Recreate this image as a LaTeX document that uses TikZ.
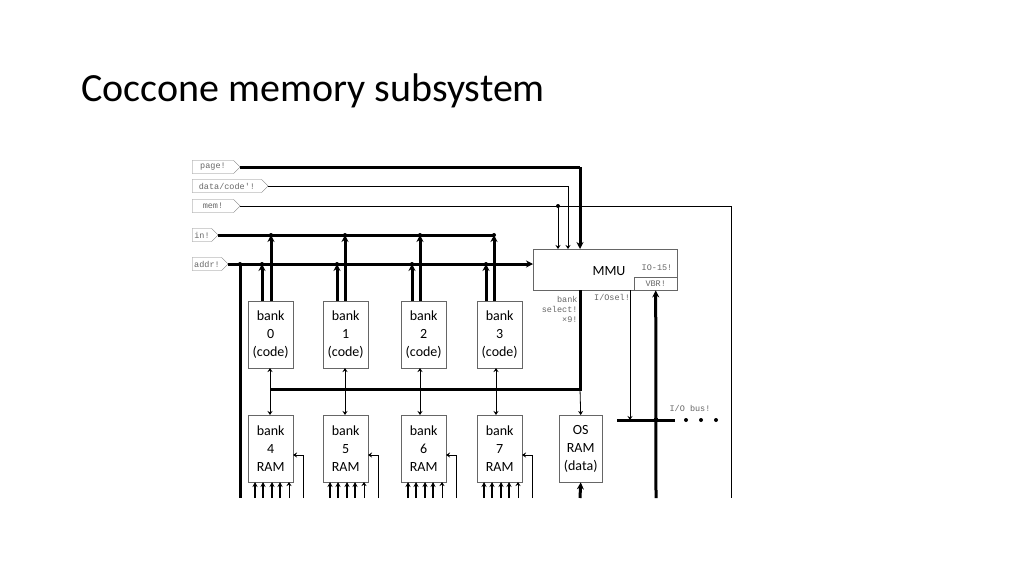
\documentclass[tikz,border=0pt]{standalone}
\usepackage{fontspec}
\setmainfont{Carlito}
\newfontfamily\monof{Liberation Mono}
\usetikzlibrary{shapes.symbols,arrows.meta}
\begin{document}
\begin{tikzpicture}[x=1pt,y=-1pt,
  sig/.style={draw=gray,signal,signal to=east,inner sep=1.5pt,minimum height=13pt,font=\monof\fontsize{8.5}{8.5}\selectfont,text=gray!80!black,anchor=west},
  box/.style={draw=gray!80!black,minimum width=45pt,minimum height=67pt,align=center,font=\fontsize{14}{18}\selectfont,anchor=north west,inner sep=1pt},
  thk/.style={line width=3pt},
  thn/.style={line width=0.8pt},
  ar/.style={-{Stealth[length=7pt,width=7pt]}},
  arr/.style={-{Stealth[length=4pt,width=5pt]}},
  mono/.style={font=\monof\fontsize{8.5}{10}\selectfont,text=gray!80!black}]
\useasboundingbox (0,0) rectangle (1024,576);
\node[anchor=base west,font=\fontsize{40}{42}\selectfont] (title) at (78,101) {Coccone memory subsystem};
\node[sig,minimum width=48pt] (page) at (192,167) {page!};
\node[sig,minimum width=76pt] (dc) at (192,186) {data/code'!};
\node[sig,minimum width=48pt] (mem) at (192,206) {mem!};
\node[sig,minimum width=26pt] (in) at (192,235) {in!};
\node[sig,minimum width=36pt] (addr) at (192,264) {addr!};
% MMU
\node[draw=gray!80!black,minimum width=144pt,minimum height=41pt,anchor=north west] (mmu) at (533,249) {};
\node[font=\fontsize{14}{14}\selectfont] (mmut) at (609,271) {MMU};
\node[mono] (io15) at (657,268) {IO-15!};
\node[draw=gray!80!black,minimum width=43pt,minimum height=13pt,anchor=north west,mono,inner sep=0pt] (vbr) at (634,277) {VBR!};
\node[mono,align=right,anchor=north east] (bs) at (581,293) {bank\\select!\\×9!};
\node[mono,anchor=north] (iosel) at (612,291) {I/Osel!};
\node[mono] (iobus) at (690,408) {I/O bus!};
% boxes
\foreach \i/\x in {0/248,1/323,2/401,3/477}{
  \node[box] (b\i) at (\x,301) {bank\\\i\\(code)};}
\foreach \i/\x in {4/248,5/323,6/401,7/477}{
  \node[box] (b\i) at (\x,415) {bank\\\i\\RAM};}
\node[box,minimum width=43pt] (os) at (559,415) {OS\\RAM\\(data)};
% top lines
\coordinate (pc) at (580,167);
\draw[thk] (page.east) -- (pc);
\draw[thk,ar] (pc) -- (580,249);
\coordinate (dcc) at (568,186);
\draw[thn] (dc.east) -- (dcc);
\draw[thn,arr] (dcc) -- (568,249);
\coordinate (mj) at (558,206);
\coordinate (mr) at (731,206);
\coordinate (mb) at (731,498);
\draw[thn] (mem.east) -- (mr) -- (mb);
\fill (mj) circle (2pt);
\draw[thn,arr] (mj) -- (558,249);
% in bus
\coordinate (ine) at (494,235);
\draw[thk] (in.east) -- (ine);
\foreach \i/\x in {0/271,1/345,2/420,3/494}{
  \draw[thk,ar] (\x,301) -- (\x,235);
  \fill (\x,235) circle (2pt);}
% addr bus
\draw[thk,ar] (addr.east) -- (addr.east -| mmu.west);
\coordinate (aj) at (240,264);
\fill (aj) circle (2pt);
\draw[thk] (aj) -- (240,498);
\foreach \x in {262,337,412,486}{
  \draw[thk,ar] (\x,301) -- (\x,264);
  \fill (\x,264) circle (2pt);}
% data bus
\coordinate (dbl) at (270,389);
\coordinate (dbr) at (580,389);
\draw[thk] (dbl) -- (dbr) -- (580,290);
\draw[thn,arr] (dbr) -- (os.north);
\foreach \a/\b/\x in {b0/b4/270,b1/b5/345,b2/b6/420,b3/b7/496}{
  \draw[thn,{Stealth[length=4pt,width=5pt]}-{Stealth[length=4pt,width=5pt]}] (\x,368) -- (\x,415);}
% I/O
\draw[thn,arr] (630,290) -- (630,420);
\draw[thk] (617,420) -- (675,420);
\fill (656,420) circle (2.5pt);
\foreach \x in {686,701,716} \fill (\x,420) circle (2pt);
\draw[thk,ar] (656,498) -- (vbr.south);
% bottom arrows
\foreach \x in {248,323,401,477}{
  \foreach \d in {7,15,24,32} \draw[line width=2pt,-{Stealth[length=5pt,width=5pt]}] (\x+\d,498) -- (\x+\d,482);
  \draw[thn,arr] (\x+41,498) -- (\x+41,482);
  \draw[thn,arr] (\x+55,498) -- (\x+55,455) -- (\x+45,455);}
\draw[thk,ar] (580,498) -- (os.south);
\end{tikzpicture}
\end{document}
